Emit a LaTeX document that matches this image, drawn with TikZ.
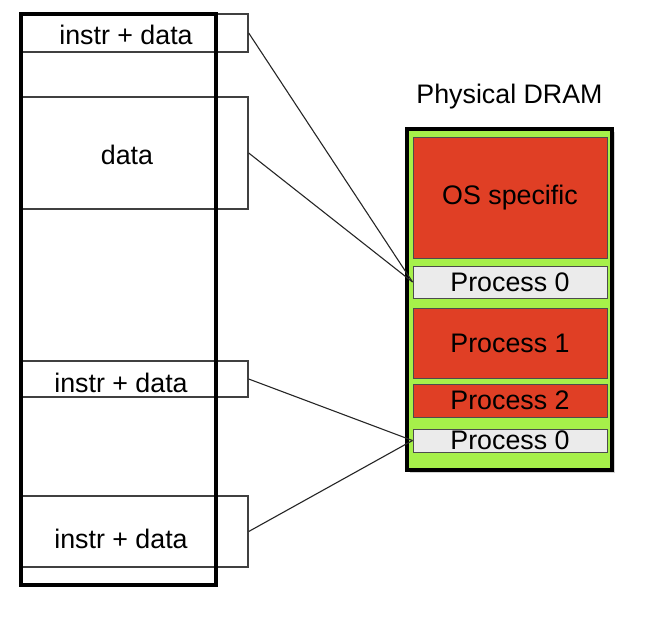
\documentclass[tikz,border=0pt]{standalone}
\usepackage{fontspec}
\setmainfont{Liberation Sans}
\usetikzlibrary{positioning,fit,shadows}
\definecolor{dramgreen}{HTML}{A6F04A}
\definecolor{dramred}{HTML}{E03F25}
\definecolor{dramgray}{HTML}{EBEBEB}

\begin{document}
\begin{tikzpicture}[x=0.5pt,y=-0.5pt,
	every node/.style={font=\fontsize{13.4pt}{16pt}\selectfont},
	seg/.style={draw=black!75, line width=0.7pt, inner sep=0pt},
	space/.style={draw=black, line width=2pt, inner sep=0pt},
	dram/.style={draw=black, line width=2pt, fill=dramgreen, inner sep=0pt,
		drop shadow={shadow xshift=1.5pt, shadow yshift=-1.5pt, opacity=0.35}},
	blk/.style={draw=black!70, line width=0.5pt, inner sep=0pt},
	used/.style={blk, fill=dramred},
	proc/.style={blk, fill=dramgray},
	conn/.style={draw=black!85, line width=0.55pt}]
	\useasboundingbox (0,0) rectangle (664,638);

	% virtual address space
	\node[seg, fit={(21,14) (248,52)}] (s1) {};
	\node[seg, fit={(21,97) (248,209)}] (s2) {};
	\node[seg, fit={(21,361) (248,397)}] (s3) {};
	\node[seg, fit={(21,496) (248,567)}] (s4) {};
	\node[space, fit={(21,14) (216,585)}] (vas) {};
	\node at (126,35) (t1) {instr + data};
	\node at (127,155) (t2) {data};
	\node at (121,383) (t3) {instr + data};
	\node at (121,539) (t4) {instr + data};

	% physical memory
	\node[dram, fit={(407,129) (612,470)}] (dram) {};
	\node[above=5.5pt of dram] (title) {Physical DRAM};
	\node[used, fit={(413,137) (607,258)}, label=center:OS specific] (os) {};
	\node[proc, fit={(413,266) (607,298)}, label=center:Process 0] (p0a) {};
	\node[used, fit={(413,308) (607,378)}, label=center:Process 1] (p1) {};
	\node[used, fit={(413,384) (607,417)}, label=center:Process 2] (p2) {};
	\node[proc, fit={(413,429) (607,452)}, label=center:Process 0] (p0b) {};

	\draw[conn] (s1.east) -- (p0a.west);
	\draw[conn] (s2.east) -- (p0a.west);
	\draw[conn] (s3.east) -- (p0b.west);
	\draw[conn] (s4.east) -- (p0b.west);
\end{tikzpicture}
\end{document}
